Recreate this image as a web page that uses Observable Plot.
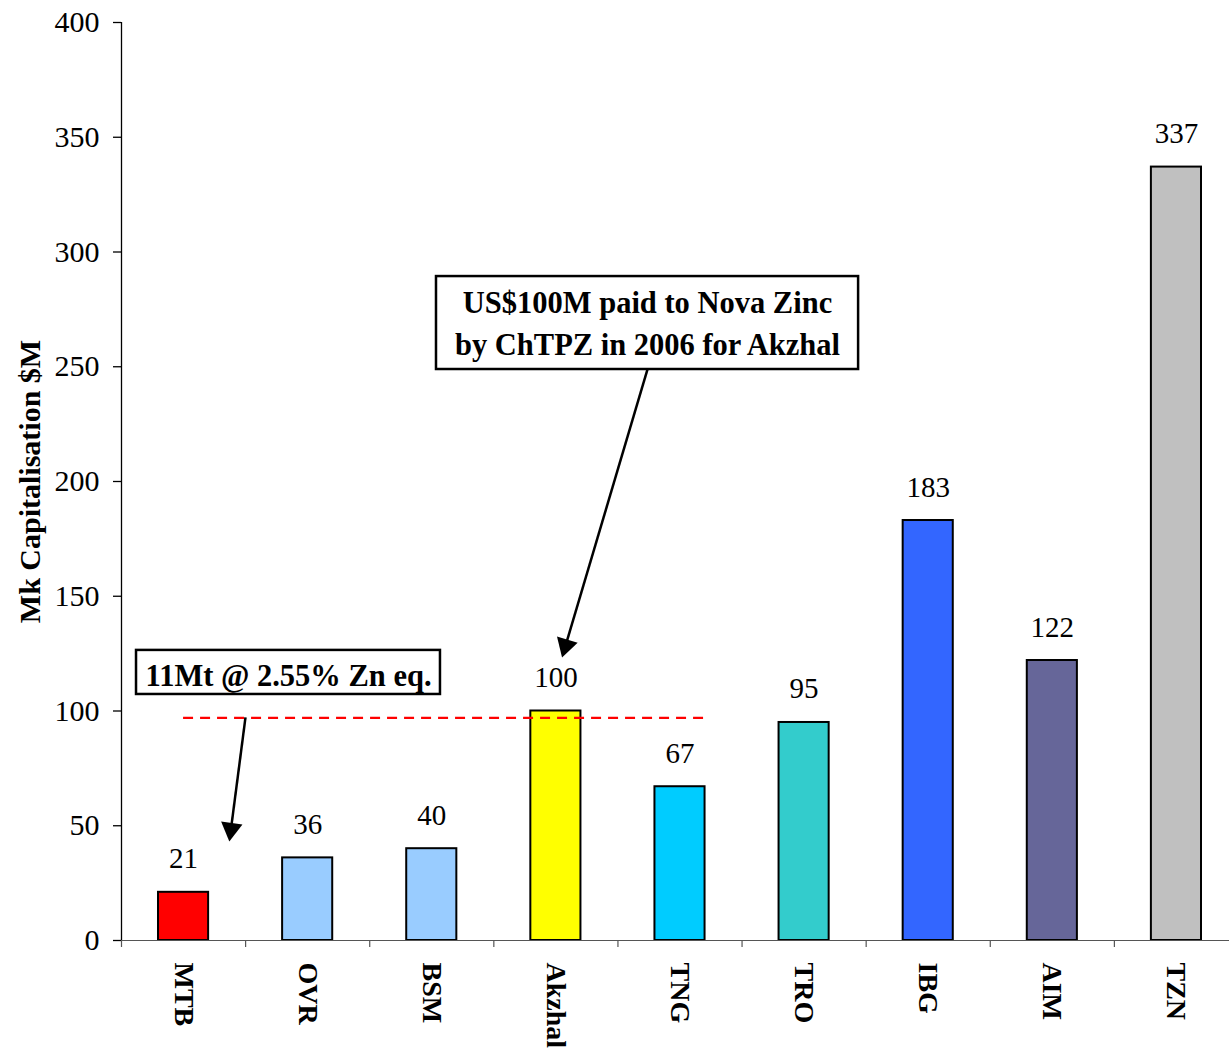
<!DOCTYPE html>
<html>
<head>
<meta charset="utf-8">
<script src="https://cdn.jsdelivr.net/npm/d3@7"></script>
<script src="https://cdn.jsdelivr.net/npm/@observablehq/plot@0.6"></script>
<style>
  html, body { margin: 0; padding: 0; background: #fff; overflow: hidden; }
  #chart svg { display: block; }
</style>
</head>
<body>
<div id="chart"></div>
<script>
// ---- data ----
const categories = ["MTB", "OVR", "BSM", "Akzhal", "TNG", "TRO", "IBG", "AIM", "TZN"];
const values = [21, 36, 40, 100, 67, 95, 183, 122, 337];
const colors = ["#FF0000", "#99CCFF", "#99CCFF", "#FFFF00", "#00CCFF", "#33CCCC", "#3366FF", "#666699", "#C0C0C0"];
const yTicks = [0, 50, 100, 150, 200, 250, 300, 350, 400];
const yLabel = "Mk Capitalisation $M";

// annotations (x in category-index units, y in $M)
const refLine = [{x1: 0.5, x2: 4.73, y: 97}];
const boxes = [
  {x1: 0.121, x2: 2.57, y1: 107.2, y2: 126.4, x: 1.346, y: 116.8, text: "11Mt @ 2.55% Zn eq."},
  {x1: 2.538, x2: 5.939, y1: 248.8, y2: 289.3, x: 4.238, y: 270.1, text: "US$100M paid to Nova Zinc\nby ChTPZ in 2006 for Akzhal"}
];
const arrows = [
  {x1: 0.999, y1: 97.2, x2: 0.882, y2: 48.5, angle: 187.6},
  {x1: 4.247, y1: 250.5, x2: 3.578, y2: 128.5, angle: 196.4}
];

const data = categories.map((c, i) => ({c, i, v: values[i], color: colors[i]}));
const serif = "'Liberation Serif', 'Times New Roman', serif";

const chart = Plot.plot({
  width: 1229,
  height: 1052,
  marginLeft: 121,
  marginRight: -9,
  marginTop: 22,
  marginBottom: 112,
  style: {fontFamily: serif, background: "#fff", color: "#000", overflow: "hidden"},
  x: {type: "linear", domain: [0, categories.length], axis: null},
  y: {domain: [0, 400], axis: null},
  marks: [
    // y axis
    Plot.axisY({ticks: yTicks, tickSize: 8, tickPadding: 14, fontSize: 30, tickFormat: d => String(d), label: null, stroke: "#000", strokeWidth: 1.3}),
    Plot.ruleX([0], {stroke: "#000", strokeWidth: 1.3}),
    // x axis line and ticks between categories
    Plot.axisX({ticks: d3.range(0, categories.length + 1), tickSize: 7, tickFormat: () => "", label: null, stroke: "#555", strokeWidth: 1.2}),
    Plot.axisX({ticks: categories.map((c, i) => i + 0.5), tickSize: 0, tickPadding: 22, tickRotate: 90,
      tickFormat: d => categories[Math.floor(d)], fontSize: 28, fontWeight: "bold", label: null}),
    // bars
    Plot.rectY(data, {x1: d => d.i, x2: d => d.i + 1, y: "v", fill: "color", stroke: "#000", strokeWidth: 2, insetLeft: 37, insetRight: 37}),
    Plot.ruleY([0], {stroke: "#555", strokeWidth: 1.2}),
    // value labels
    Plot.text(data, {x: d => d.i + 0.5, y: "v", text: d => String(d.v), dy: -24, lineAnchor: "bottom", fontSize: 29, fill: "#000"}),
    // dashed reference line
    Plot.ruleY(refLine, {x1: "x1", x2: "x2", y: "y", stroke: "#FF0000", strokeWidth: 2.2, strokeDasharray: "10,7"}),
    // arrows
    Plot.link(arrows, {x1: "x1", y1: "y1", x2: "x2", y2: "y2", stroke: "#000", strokeWidth: 2.5}),
    Plot.dot(arrows, {x: "x2", y: "y2", symbol: "triangle", rotate: "angle", r: 8, fill: "#000", stroke: null}),
    // annotation boxes
    Plot.rect(boxes, {x1: "x1", x2: "x2", y1: "y1", y2: "y2", fill: "#fff", stroke: "#000", strokeWidth: 2.5}),
    Plot.text(boxes, {x: "x", y: "y", text: "text", fontSize: 30.5, fontWeight: "bold", lineHeight: 1.37, fill: "#000"}),
    // y axis title
    Plot.text([yLabel], {frameAnchor: "left", textAnchor: "middle", rotate: -90, dx: -91, fontSize: 30, fontWeight: "bold", fill: "#000"})
  ]
});
document.getElementById("chart").append(chart);
</script>
</body>
</html>
